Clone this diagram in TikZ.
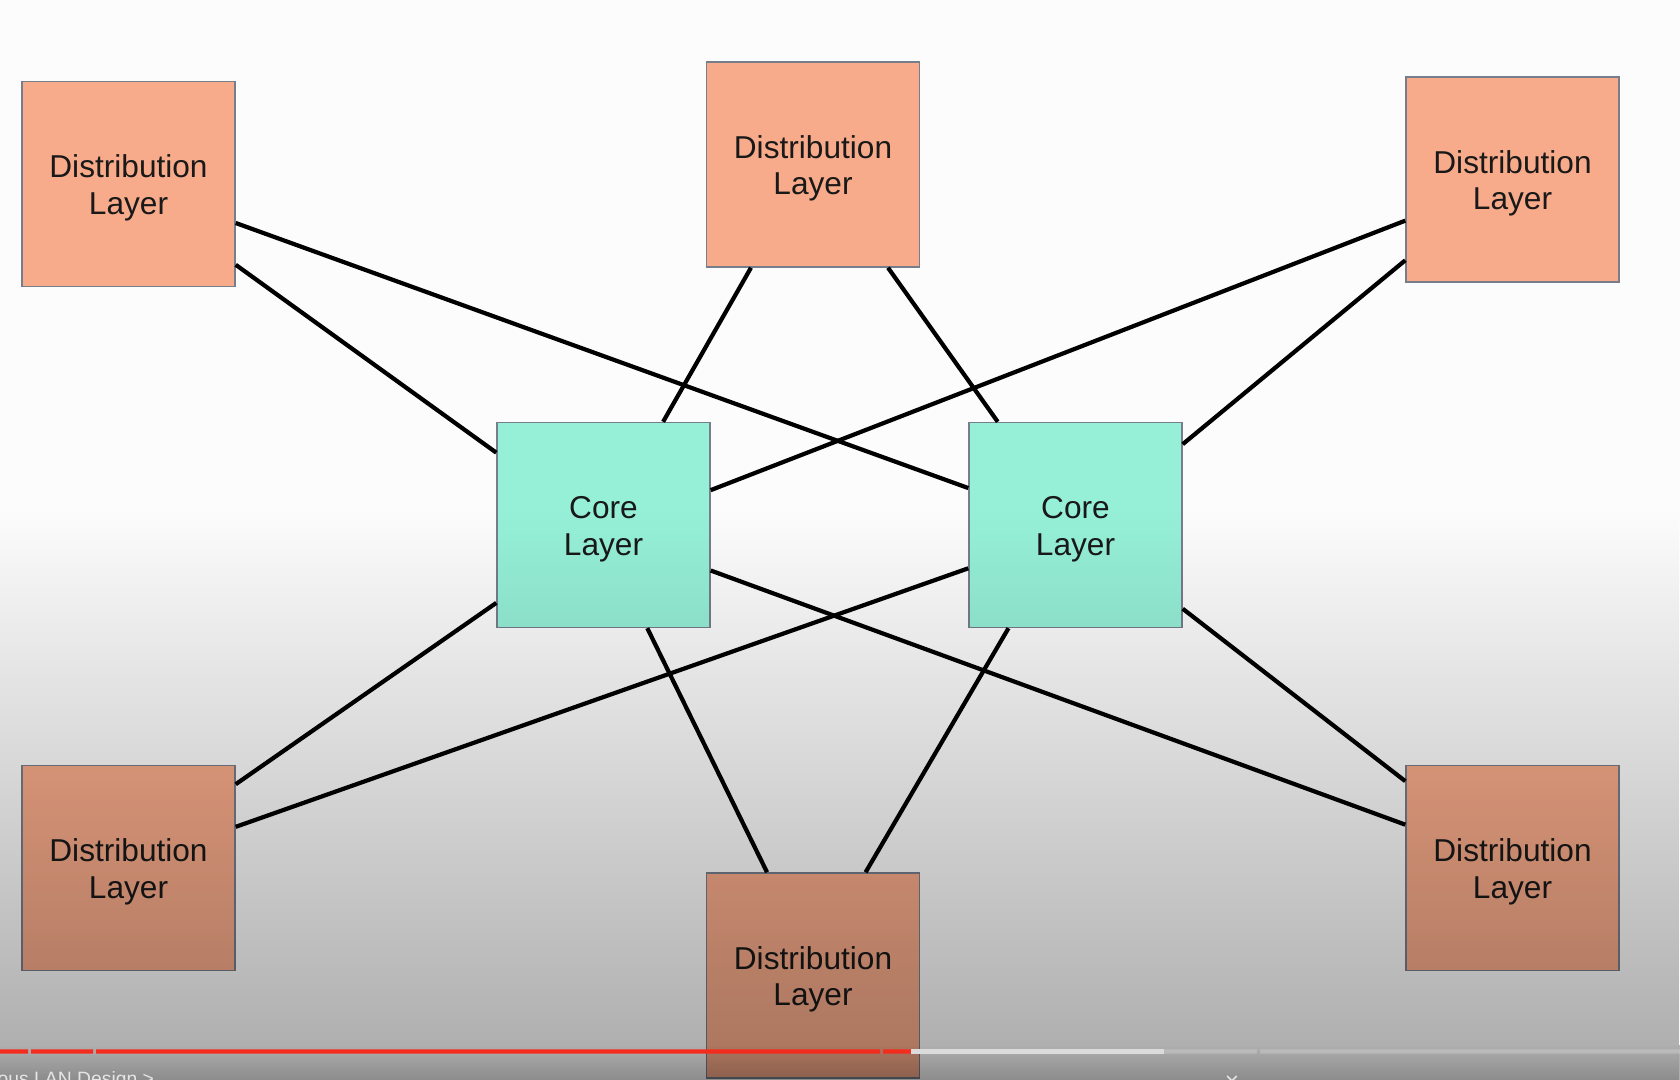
\documentclass[tikz,border=0pt]{standalone}
\usepackage{fontspec}
\setmainfont{Liberation Sans}
\usetikzlibrary{calc,positioning,fadings}
\definecolor{distfill}{RGB}{248,171,138}
\definecolor{corefill}{RGB}{150,240,216}
\definecolor{boxline}{RGB}{118,126,140}
\definecolor{barred}{RGB}{243,44,30}
\tikzfading[name=vidfade,top color=transparent!100,bottom color=transparent!70]
\tikzfading[name=barfade,top color=transparent!100,bottom color=transparent!80]
\newcommand\topstrut{\rule{0pt}{8.6pt}}

\begin{document}
\begin{tikzpicture}[
  layerbox/.style={draw=boxline,line width=0.4pt,minimum width=2.13cm,minimum height=2.05cm,inner sep=0pt,align=center,font=\fontsize{9}{10.4}\selectfont,text=black!90},
  dist/.style={layerbox,fill=distfill},
  core/.style={layerbox,fill=corefill},
  link/.style={line width=1.2pt,black}]
\useasboundingbox(0,0)rectangle(16.8,10.8);
\clip(0,0)rectangle(16.8,10.8);
\fill[white!99!black](0,0)rectangle(16.8,10.8);
\node[dist](tl)at(1.285,8.96){\topstrut Distribution\\Layer};
\node[dist](tm)at(8.13,9.155){\topstrut Distribution\\Layer};
\node[dist](tr)at(15.125,9.005){\topstrut Distribution\\Layer};
\node[core](cl)at(6.035,5.55){\topstrut Core\\Layer};
\node[core](cr)at(10.755,5.55){\topstrut Core\\Layer};
\node[dist](bl)at(1.285,2.12){\topstrut Distribution\\Layer};
\node[dist](bm)at(8.13,1.045){\topstrut Distribution\\Layer};
\node[dist](br)at(15.125,2.12){\topstrut Distribution\\Layer};
\draw[link](tl.-20.4)--(cr.161.7);
\draw[link](tl.-37.7)--(cl.146);
\draw[link](tm.239.2)--(cl.60.6);
\draw[link](tm.-54.9)--(cr.127);
\draw[link](tr.201)--(cl.18.5);
\draw[link](tr.217.9)--(cr.37.9);
\draw[link](cl.216.1)--(bl.38);
\draw[link](cr.202.4)--(bl.21.8);
\draw[link](cl.-67.4)--(bm.114.4);
\draw[link](cr.237.3)--(bm.63.5);
\draw[link](cl.-23)--(br.158.5);
\draw[link](cr.-38.3)--(br.141.4);
\fill[black,path fading=vidfade](0,0.35)rectangle(16.8,5.7);
\fill[black,opacity=0.3](0,0)rectangle(16.8,0.35);
\fill[black,path fading=barfade](0,0)rectangle(16.8,0.35);
\fill[barred](0,0.263)rectangle(0.28,0.307) (0.31,0.263)rectangle(0.93,0.307)
  (0.96,0.263)rectangle(8.80,0.307) (8.83,0.263)rectangle(9.11,0.307);
\fill[white!86!black](9.11,0.263)rectangle(11.64,0.307);
\fill[white,opacity=0.2](11.64,0.263)rectangle(12.57,0.307) (12.60,0.263)rectangle(16.8,0.307);
\node[anchor=base west,inner sep=0pt,text=white!90!black,font=\fontsize{5.5}{6}\selectfont](nav)at(-0.03,-0.06){ous LAN Design >};
\node[anchor=base,inner sep=0pt,text=white!90!black,font=\fontsize{7}{8}\selectfont](close)at(12.32,-0.1){×};
\end{tikzpicture}
\end{document}
